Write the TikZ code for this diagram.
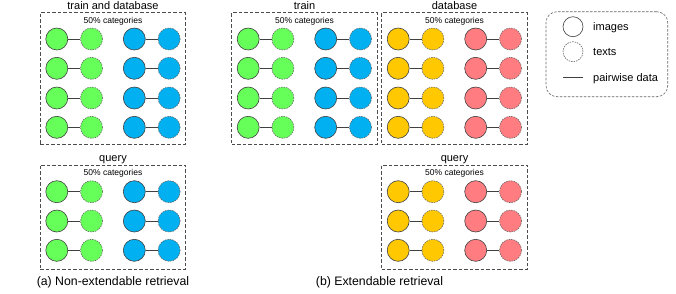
\documentclass[tikz,border=0pt]{standalone}
\usepackage{fontspec}
\setmainfont{Liberation Sans}
\definecolor{cgreen}{HTML}{66FF5A}
\definecolor{cblue}{HTML}{00B0F0}
\definecolor{cyellow}{HTML}{FFC800}
\definecolor{cred}{HTML}{FF7C80}
\tikzset{
  img/.style={circle, draw=black!75, line width=0.6pt, minimum size=22pt, inner sep=0pt},
  txt/.style={circle, draw=black!60, dash pattern=on 1.5pt off 1pt, line width=0.6pt, minimum size=22pt, inner sep=0pt},
  pairline/.style={draw=black!75, line width=0.9pt},
  group/.style={draw=black!70, dash pattern=on 3.5pt off 2pt, line width=0.7pt, inner sep=0pt},
  legendbox/.style={draw=black!60, dash pattern=on 2.5pt off 1.5pt, line width=0.6pt, rounded corners=11pt, inner sep=0pt},
  title/.style={font=\fontsize{11}{13}\selectfont, anchor=base, inner sep=0pt},
  sub/.style={font=\fontsize{8.5}{10}\selectfont, anchor=base, inner sep=0pt},
  caption/.style={font=\fontsize{12.3}{14}\selectfont, anchor=base, inner sep=0pt},
  legtext/.style={font=\fontsize{11}{13}\selectfont, anchor=base west, inner sep=0pt},
}
\newcommand\mypair[5]{%
  \node[img, fill=#5] (#1i) at (#2,#4) {};
  \node[txt, fill=#5] (#1t) at (#3,#4) {};
  \draw[pairline] (#1i) -- (#1t);
}
% #1 prefix, #2 left x, #3 color1, #4 color2, #5 list of rows
\newcommand\mygroup[5]{%
  \foreach \yy [count=\k] in {#5} {
    \mypair{#1a\k}{#2+16.5}{#2+51.2}{\yy}{#3}
    \mypair{#1b\k}{#2+94}{#2+128.8}{\yy}{#4}
  }
}
\begin{document}
\begin{tikzpicture}[x=1pt,y=-1pt]
\useasboundingbox (0,0) rectangle (676,293);

% ---- (a) ----
\node[group, minimum width=145.4pt, minimum height=131.6pt] (trdb) at (113,78.5) {};
\node[title] (trdbT) at (113,9.2) {train and database};
\node[sub] (trdbS) at (113,23.5) {50\% categories};
\mygroup{A}{40.3}{cgreen}{cblue}{39,68.3,98,127.3}

\node[group, minimum width=145.4pt, minimum height=104.3pt] (qa) at (113,217.15) {};
\node[title] (qaT) at (113,161.5) {query};
\node[sub] (qaS) at (113,175.8) {50\% categories};
\mygroup{Q}{40.3}{cgreen}{cblue}{191.7,221,250.3}

\node[caption] (capa) at (113,285.3) {(a) Non-extendable retrieval};

% ---- (b) ----
\node[group, minimum width=145.6pt, minimum height=131.6pt] (tr) at (304.5,78.5) {};
\node[title] (trT) at (304.5,9.2) {train};
\node[sub] (trS) at (304.5,23.5) {50\% categories};
\mygroup{T}{231.7}{cgreen}{cblue}{39,68.3,98,127.3}

\node[group, minimum width=145.6pt, minimum height=131.6pt] (db) at (454.5,78.5) {};
\node[title] (dbT) at (454.5,9.2) {database};
\node[sub] (dbS) at (454.5,23.5) {50\% categories};
\mygroup{D}{381.7}{cyellow}{cred}{39,68.3,98,127.3}

\node[group, minimum width=145.6pt, minimum height=104.3pt] (qb) at (454.5,217.15) {};
\node[title] (qbT) at (454.5,161.5) {query};
\node[sub] (qbS) at (454.5,175.8) {50\% categories};
\mygroup{R}{381.7}{cyellow}{cred}{191.7,221,250.3}

\node[caption] (capb) at (379.5,285.3) {(b) Extendable retrieval};

% ---- legend ----
\node[legendbox, minimum width=121.7pt, minimum height=85pt] (leg) at (606.85,54.2) {};
\node[img, minimum size=20pt] (limg) at (573,26.7) {};
\node[txt, minimum size=20pt] (ltxt) at (573,51.7) {};
\coordinate (l1) at (563.3,77.7);
\coordinate (l2) at (582.7,77.7);
\draw[pairline] (l1) -- (l2);
\node[legtext] (limgT) at (593,30.5) {images};
\node[legtext] (ltxtT) at (593,55.6) {texts};
\node[legtext] (lpairT) at (593,81.6) {pairwise data};
\end{tikzpicture}
\end{document}
